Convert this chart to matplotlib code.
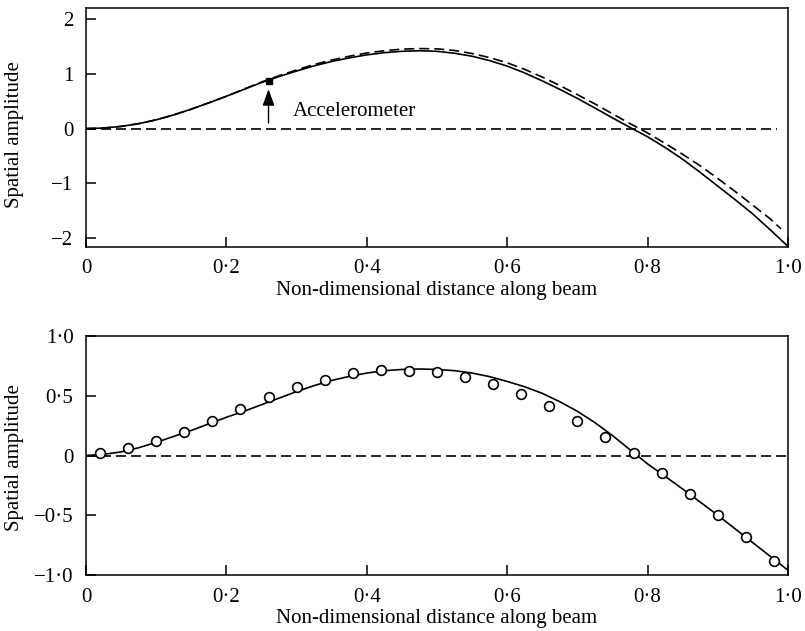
import matplotlib

matplotlib.use("Agg")
import matplotlib.pyplot as plt

plt.rcParams["font.family"] = ["Liberation Serif", "DejaVu Serif"]
plt.rcParams["font.size"] = 15

# upper panel: two mode shapes (solid / dashed)
x_top = [0.0, 0.025, 0.05, 0.075, 0.1, 0.125, 0.15, 0.175, 0.2, 0.225, 0.25,
         0.275, 0.3, 0.325, 0.35, 0.375, 0.4, 0.425, 0.45, 0.475, 0.5,
         0.525, 0.55, 0.575, 0.6, 0.625, 0.65, 0.675, 0.7, 0.725, 0.75,
         0.775, 0.8, 0.825, 0.85, 0.875, 0.9, 0.925, 0.95, 0.975, 1.0]
top_solid = [0.0, 0.01, 0.04, 0.09, 0.16, 0.25, 0.355, 0.47, 0.59, 0.715, 0.84,
             0.95, 1.05, 1.145, 1.225, 1.29, 1.345, 1.385, 1.41, 1.42, 1.41,
             1.375, 1.32, 1.24, 1.14, 1.015, 0.87, 0.715, 0.55, 0.375, 0.195,
             0.02, -0.15, -0.345, -0.56, -0.80, -1.05, -1.30, -1.56, -1.85, -2.15]
x_top_dash = [0.0, 0.025, 0.05, 0.075, 0.1, 0.125, 0.15, 0.175, 0.2, 0.225, 0.25,
              0.275, 0.3, 0.325, 0.35, 0.375, 0.4, 0.425, 0.45, 0.475, 0.5,
              0.525, 0.55, 0.575, 0.6, 0.625, 0.65, 0.675, 0.7, 0.725, 0.75,
              0.775, 0.8, 0.825, 0.85, 0.875, 0.9, 0.925, 0.95, 0.975, 0.99]
top_dashed = [0.0, 0.01, 0.04, 0.09, 0.16, 0.25, 0.355, 0.47, 0.59, 0.72, 0.85,
              0.965, 1.07, 1.17, 1.25, 1.32, 1.38, 1.42, 1.45, 1.46, 1.455,
              1.425, 1.37, 1.295, 1.20, 1.08, 0.94, 0.785, 0.62, 0.45, 0.27,
              0.09, -0.08, -0.27, -0.47, -0.68, -0.91, -1.15, -1.40, -1.65, -1.83]
accel_x, accel_y = 0.26, 0.86

# lower panel: fitted curve and measured points
x_bot = [0.0, 0.025, 0.05, 0.075, 0.1, 0.125, 0.15, 0.175, 0.2, 0.225, 0.25,
         0.275, 0.3, 0.325, 0.35, 0.375, 0.4, 0.425, 0.45, 0.475, 0.5,
         0.525, 0.55, 0.575, 0.6, 0.625, 0.65, 0.675, 0.7, 0.725, 0.75,
         0.775, 0.8, 0.825, 0.85, 0.875, 0.9, 0.925, 0.95, 0.975, 1.0]
bot_solid = [0.0, 0.01, 0.03, 0.065, 0.11, 0.16, 0.21, 0.265, 0.32, 0.37, 0.425,
             0.48, 0.535, 0.585, 0.628, 0.662, 0.69, 0.71, 0.72, 0.724, 0.72,
             0.71, 0.69, 0.66, 0.62, 0.575, 0.52, 0.45, 0.37, 0.275, 0.167,
             0.048, -0.07, -0.175, -0.28, -0.39, -0.50, -0.615, -0.73, -0.845, -0.96]
meas_x = [0.02, 0.06, 0.10, 0.14, 0.18, 0.22, 0.26, 0.30, 0.34, 0.38, 0.42, 0.46,
          0.50, 0.54, 0.58, 0.62, 0.66, 0.70, 0.74, 0.78, 0.82, 0.86, 0.90, 0.94, 0.98]
meas_y = [0.023, 0.065, 0.124, 0.197, 0.29, 0.387, 0.487, 0.576, 0.63, 0.69, 0.715, 0.71,
          0.70, 0.66, 0.60, 0.515, 0.414, 0.29, 0.157, 0.02, -0.144, -0.32, -0.50, -0.685, -0.88]

x_ticks = [0, 0.2, 0.4, 0.6, 0.8, 1.0]
x_ticklabels = ["0", "0·2", "0·4", "0·6", "0·8", "1·0"]
top_yticks = [-2, -1, 0, 1, 2]
top_yticklabels = ["\u22122", "\u22121", "0", "1", "2"]
bot_yticks = [-1.0, -0.5, 0, 0.5, 1.0]
bot_yticklabels = ["\u22121·0", "\u22120·5", "0", "0·5", "1·0"]

DASH = (6, 3)
LW = 1.2

fig = plt.figure(figsize=(8.05, 6.31), dpi=100)
ax1 = fig.add_axes([0.1068, 0.6086, 0.8721, 0.3787])
ax2 = fig.add_axes([0.1068, 0.0887, 0.8721, 0.3788])


def style(ax, yticks, ylabels, ylab_y):
    ax.set_xlim(0, 1.0)
    ax.set_xticks(x_ticks)
    ax.set_xticklabels(x_ticklabels)
    ax.set_yticks(yticks)
    ax.set_yticklabels(ylabels)
    ax.tick_params(direction="in", length=7, width=1.1, top=False, right=False,
                   pad=9, labelsize=15)
    for sp in ax.spines.values():
        sp.set_linewidth(1.1)
    ax.set_xlabel("Non-dimensional distance along beam", labelpad=2)
    ax.set_ylabel("Spatial amplitude")
    ax.yaxis.set_label_coords(-0.088, ylab_y)


# ---- upper panel ----
ax1.plot(x_top, top_solid, color="k", lw=LW)
ax1.plot(x_top_dash, top_dashed, color="k", lw=LW, dashes=DASH)
ax1.axhline(0, xmax=0.985, color="k", lw=LW, dashes=DASH)
ax1.plot([accel_x], [accel_y], marker="s", ms=5, color="k", ls="none")
ax1.annotate("", xy=(accel_x, accel_y - 0.14), xytext=(accel_x, 0.1),
             arrowprops=dict(arrowstyle="-|>,head_length=0.5,head_width=0.18",
                             mutation_scale=20, color="k", lw=1.0,
                             shrinkA=0, shrinkB=0))
ax1.text(0.294, 0.31, "Accelerometer", ha="left", va="center", fontsize=15)
ax1.set_ylim(-2.16, 2.2)
style(ax1, top_yticks, top_yticklabels, 0.47)

# ---- lower panel ----
ax2.plot(x_bot, bot_solid, color="k", lw=LW)
ax2.axhline(0, color="k", lw=LW, dashes=DASH)
ax2.plot(meas_x, meas_y, ls="none", marker="o", ms=7, mfc="white", mec="k", mew=1.2)
ax2.set_ylim(-1.0, 1.0)
style(ax2, bot_yticks, bot_yticklabels, 0.49)

fig.savefig("out.png", dpi=100)
